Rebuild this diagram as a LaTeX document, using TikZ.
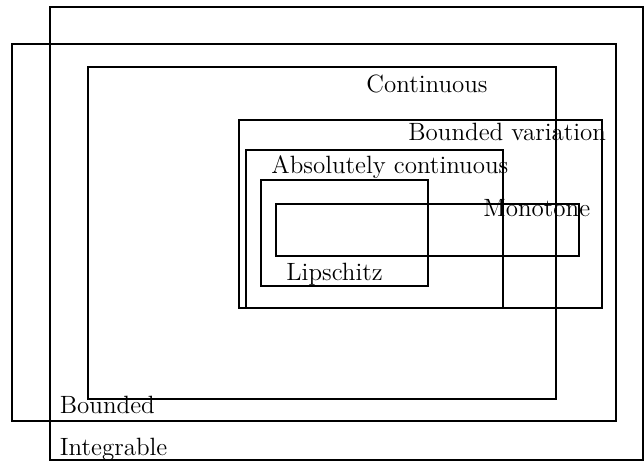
\documentclass[tikz,border=0pt]{standalone}
\begin{document}
\begin{tikzpicture}[x=0.5pt,y=-0.5pt,
  setbox/.style={draw=black,line width=1pt},
  setlabel/.style={anchor=base west,inner sep=0pt,font=\fontsize{12.5}{15}\selectfont}]
\useasboundingbox (0,0) rectangle (644,461);
% nested classes of real functions
\draw[setbox] (49.5,6.5) rectangle (642.5,459.5);   % integrable
\draw[setbox] (12,44) rectangle (616,421);          % bounded
\draw[setbox] (87.5,67) rectangle (556,399);        % continuous
\draw[setbox] (238.5,120) rectangle (601.5,308);    % bounded variation
\draw[setbox] (246,150) rectangle (502.5,308);      % absolutely continuous
\draw[setbox] (261,180) rectangle (427.5,285.5);    % Lipschitz
\draw[setbox] (276,203.5) rectangle (579,255.5);    % monotone
% labels
\node[setlabel] (lint) at (59.5,455) {Integrable};
\node[setlabel] (lbdd) at (59.5,413) {Bounded};
\node[setlabel] (lcont) at (366,92) {Continuous};
\node[setlabel] (lbv) at (408,140) {Bounded variation};
\node[setlabel] (lac) at (271,173) {Absolutely continuous};
\node[setlabel] (llip) at (286,280) {Lipschitz};
\node[setlabel] (lmon) at (483,216) {Monotone};
\end{tikzpicture}
\end{document}
